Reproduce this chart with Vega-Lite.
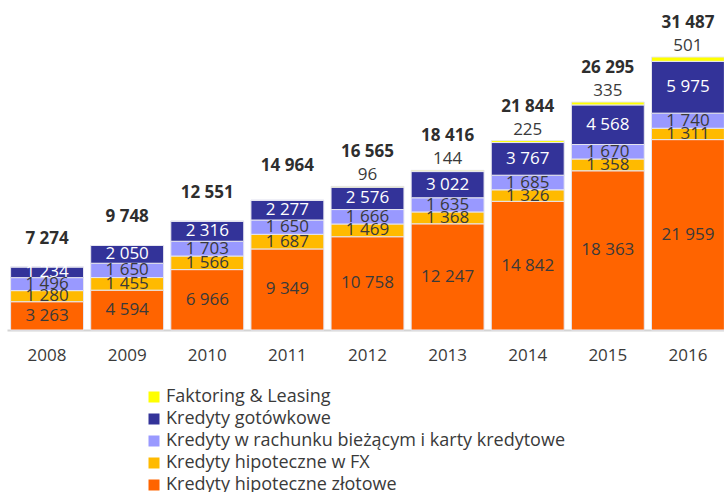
{
  "$schema": "https://vega.github.io/schema/vega-lite/v6.json",
  "autosize": {"type": "none"},
  "width": 717,
  "height": 330,
  "padding": {"left": 7, "top": 0, "right": 0, "bottom": 162},
  "background": "white",
  "config": {
    "locale": {"number": {"decimal": ",", "thousands": " ", "grouping": [3], "currency": ["", " zł"]}},
    "view": {"stroke": null},
    "font": "Open Sans"
  },
  "datasets": {
    "segments": [
      {"year": "2008", "series": "Kredyty hipoteczne złotowe", "rank": 1, "value": 3263},
      {"year": "2008", "series": "Kredyty hipoteczne w FX", "rank": 2, "value": 1280},
      {"year": "2008", "series": "Kredyty w rachunku bieżącym i karty kredytowe", "rank": 3, "value": 1496},
      {"year": "2008", "series": "Kredyty gotówkowe", "rank": 4, "value": 1234},
      {"year": "2008", "series": "Faktoring & Leasing", "rank": 5, "value": 0},
      {"year": "2009", "series": "Kredyty hipoteczne złotowe", "rank": 1, "value": 4594},
      {"year": "2009", "series": "Kredyty hipoteczne w FX", "rank": 2, "value": 1455},
      {"year": "2009", "series": "Kredyty w rachunku bieżącym i karty kredytowe", "rank": 3, "value": 1650},
      {"year": "2009", "series": "Kredyty gotówkowe", "rank": 4, "value": 2050},
      {"year": "2009", "series": "Faktoring & Leasing", "rank": 5, "value": 0},
      {"year": "2010", "series": "Kredyty hipoteczne złotowe", "rank": 1, "value": 6966},
      {"year": "2010", "series": "Kredyty hipoteczne w FX", "rank": 2, "value": 1566},
      {"year": "2010", "series": "Kredyty w rachunku bieżącym i karty kredytowe", "rank": 3, "value": 1703},
      {"year": "2010", "series": "Kredyty gotówkowe", "rank": 4, "value": 2316},
      {"year": "2010", "series": "Faktoring & Leasing", "rank": 5, "value": 0},
      {"year": "2011", "series": "Kredyty hipoteczne złotowe", "rank": 1, "value": 9349},
      {"year": "2011", "series": "Kredyty hipoteczne w FX", "rank": 2, "value": 1687},
      {"year": "2011", "series": "Kredyty w rachunku bieżącym i karty kredytowe", "rank": 3, "value": 1650},
      {"year": "2011", "series": "Kredyty gotówkowe", "rank": 4, "value": 2277},
      {"year": "2011", "series": "Faktoring & Leasing", "rank": 5, "value": 0},
      {"year": "2012", "series": "Kredyty hipoteczne złotowe", "rank": 1, "value": 10758},
      {"year": "2012", "series": "Kredyty hipoteczne w FX", "rank": 2, "value": 1469},
      {"year": "2012", "series": "Kredyty w rachunku bieżącym i karty kredytowe", "rank": 3, "value": 1666},
      {"year": "2012", "series": "Kredyty gotówkowe", "rank": 4, "value": 2576},
      {"year": "2012", "series": "Faktoring & Leasing", "rank": 5, "value": 96},
      {"year": "2013", "series": "Kredyty hipoteczne złotowe", "rank": 1, "value": 12247},
      {"year": "2013", "series": "Kredyty hipoteczne w FX", "rank": 2, "value": 1368},
      {"year": "2013", "series": "Kredyty w rachunku bieżącym i karty kredytowe", "rank": 3, "value": 1635},
      {"year": "2013", "series": "Kredyty gotówkowe", "rank": 4, "value": 3022},
      {"year": "2013", "series": "Faktoring & Leasing", "rank": 5, "value": 144},
      {"year": "2014", "series": "Kredyty hipoteczne złotowe", "rank": 1, "value": 14842},
      {"year": "2014", "series": "Kredyty hipoteczne w FX", "rank": 2, "value": 1326},
      {"year": "2014", "series": "Kredyty w rachunku bieżącym i karty kredytowe", "rank": 3, "value": 1685},
      {"year": "2014", "series": "Kredyty gotówkowe", "rank": 4, "value": 3767},
      {"year": "2014", "series": "Faktoring & Leasing", "rank": 5, "value": 225},
      {"year": "2015", "series": "Kredyty hipoteczne złotowe", "rank": 1, "value": 18363},
      {"year": "2015", "series": "Kredyty hipoteczne w FX", "rank": 2, "value": 1358},
      {"year": "2015", "series": "Kredyty w rachunku bieżącym i karty kredytowe", "rank": 3, "value": 1670},
      {"year": "2015", "series": "Kredyty gotówkowe", "rank": 4, "value": 4568},
      {"year": "2015", "series": "Faktoring & Leasing", "rank": 5, "value": 335},
      {"year": "2016", "series": "Kredyty hipoteczne złotowe", "rank": 1, "value": 21959},
      {"year": "2016", "series": "Kredyty hipoteczne w FX", "rank": 2, "value": 1311},
      {"year": "2016", "series": "Kredyty w rachunku bieżącym i karty kredytowe", "rank": 3, "value": 1740},
      {"year": "2016", "series": "Kredyty gotówkowe", "rank": 4, "value": 5975},
      {"year": "2016", "series": "Faktoring & Leasing", "rank": 5, "value": 501}
    ],
    "totals": [
      {"year": "2008", "total": 7274},
      {"year": "2009", "total": 9748},
      {"year": "2010", "total": 12551},
      {"year": "2011", "total": 14964},
      {"year": "2012", "total": 16565},
      {"year": "2013", "total": 18416},
      {"year": "2014", "total": 21844},
      {"year": "2015", "total": 26295},
      {"year": "2016", "total": 31487}
    ]
  },
  "encoding": {
    "x": {
      "field": "year", "type": "ordinal", "title": null,
      "scale": {"range": [0, 721], "paddingInner": 0.09, "paddingOuter": 0.045},
      "axis": {
        "domainColor": "#d4d4d4", "domainWidth": 2, "ticks": false,
        "labelFontSize": 17, "labelColor": "#3a3a3a", "labelPadding": 17, "labelAngle": 0,
        "labelFont": "Open Sans"
      }
    }
  },
  "layer": [
    {
      "data": {"name": "segments"},
      "transform": [
        {"stack": "value", "groupby": ["year"], "sort": [{"field": "rank", "order": "ascending"}], "as": ["y0", "y1"]}
      ],
      "mark": {"type": "bar", "stroke": "#e6e6f0", "strokeWidth": 1},
      "encoding": {
        "y": {"field": "y0", "type": "quantitative", "scale": {"domain": [0, 38060], "nice": false}, "axis": null},
        "y2": {"field": "y1"},
        "color": {
          "field": "series", "type": "nominal",
          "scale": {
            "domain": ["Faktoring & Leasing", "Kredyty gotówkowe", "Kredyty w rachunku bieżącym i karty kredytowe", "Kredyty hipoteczne w FX", "Kredyty hipoteczne złotowe"],
            "range": ["#FFFF00", "#333399", "#9999FF", "#FFBA00", "#FF6400"]
          },
          "legend": {
            "orient": "none", "legendX": 138, "legendY": 388, "direction": "vertical", "title": null,
            "symbolType": "square", "symbolSize": 121, "symbolStrokeWidth": 0,
            "labelFontSize": 18, "labelColor": "#3a3a3a", "labelFont": "Open Sans",
            "rowPadding": 4, "labelOffset": 3, "labelLimit": 600
          }
        }
      }
    },
    {
      "data": {"name": "segments"},
      "transform": [
        {"stack": "value", "groupby": ["year"], "sort": [{"field": "rank", "order": "ascending"}], "as": ["y0", "y1"]},
        {"filter": "datum.rank < 5"},
        {"calculate": "(datum.y0 + datum.y1) / 2", "as": "ymid"}
      ],
      "mark": {"type": "text", "fontSize": 17, "baseline": "middle", "align": "center"},
      "encoding": {
        "y": {"field": "ymid", "type": "quantitative"},
        "text": {"field": "value", "type": "quantitative", "format": ",d"},
        "color": {"condition": {"test": "datum.rank === 4", "value": "white"}, "value": "#3a3a3a"}
      }
    },
    {
      "data": {"name": "segments"},
      "transform": [
        {"stack": "value", "groupby": ["year"], "sort": [{"field": "rank", "order": "ascending"}], "as": ["y0", "y1"]},
        {"filter": "datum.rank === 5 && datum.value > 0"}
      ],
      "mark": {"type": "text", "fontSize": 17, "baseline": "middle", "align": "center", "dy": -11, "color": "#3a3a3a"},
      "encoding": {
        "y": {"field": "y1", "type": "quantitative"},
        "text": {"field": "value", "type": "quantitative", "format": ",d"}
      }
    },
    {
      "data": {"name": "totals"},
      "transform": [{"filter": "datum.year < '2011'"}],
      "mark": {"type": "text", "fontSize": 17, "fontWeight": "bold", "baseline": "middle", "align": "center", "dy": -28, "color": "#2e2e2e"},
      "encoding": {
        "y": {"field": "total", "type": "quantitative"},
        "text": {"field": "total", "type": "quantitative", "format": ",d"}
      }
    },
    {
      "data": {"name": "totals"},
      "transform": [{"filter": "datum.year >= '2011'"}],
      "mark": {"type": "text", "fontSize": 17, "fontWeight": "bold", "baseline": "middle", "align": "center", "dy": -34, "color": "#2e2e2e"},
      "encoding": {
        "y": {"field": "total", "type": "quantitative"},
        "text": {"field": "total", "type": "quantitative", "format": ",d"}
      }
    }
  ]
}
